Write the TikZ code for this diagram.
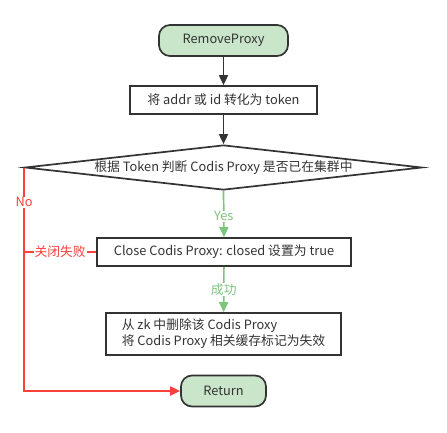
\documentclass[tikz,border=0pt]{standalone}
\usepackage{fontspec}
\setmainfont{Noto Sans CJK SC}
\usetikzlibrary{arrows.meta,shapes.geometric}
\definecolor{ink}{HTML}{333333}
\definecolor{termfill}{HTML}{C9E6CA}
\definecolor{okgreen}{HTML}{7CC67C}
\definecolor{failred}{HTML}{F8413A}
\begin{document}
\begin{tikzpicture}[x=1pt,y=-1pt,
    font=\fontsize{12.8}{16}\selectfont,text=ink,
    term/.style={draw=ink,line width=1.7pt,fill=termfill,rounded corners=11pt,inner sep=0pt},
    proc/.style={draw=ink,line width=1.7pt,fill=white,inner sep=0pt},
    flow/.style={ink,line width=1.7pt,-{Triangle[length=10pt,width=9pt]}},
    good/.style={okgreen,line width=1.7pt,-{Triangle[length=10pt,width=9pt]}},
    bad/.style={failred,line width=1.9pt},
    tag/.style={fill=white,inner sep=1pt,font=\fontsize{12.8}{15}\selectfont}]
    \useasboundingbox (0,0) rectangle (447,432);
    %% Blocks
    \node[term,minimum width=129pt,minimum height=31pt] (start) at (223.5,40.5) {RemoveProxy};
    \node[proc,minimum width=187pt,minimum height=28pt] (conv) at (223.5,100) {将 addr 或 id 转化为 token};
    \node[draw=ink,line width=1.7pt,diamond,aspect=8.8,inner sep=0pt,minimum width=397pt,minimum height=45pt] (check) at (223.5,167.5) {根据 Token 判断 Codis Proxy 是否已在集群中};
    \node[proc,minimum width=254pt,minimum height=28pt] (close) at (224,252) {Close Codis Proxy: closed 设置为 true};
    \node[proc,minimum width=235pt,minimum height=42pt,align=left] (clean) at (223.5,334) {从 zk 中删除该 Codis Proxy\\将 Codis Proxy 相关缓存标记为失效};
    \node[term,minimum width=85pt,minimum height=31pt] (ret) at (223.5,391) {Return};
    %% Links
    \draw[flow] (start) -- (conv);
    \draw[flow] (conv) -- (check);
    \draw[good] (check.south) -- (close.north) node[tag,text=okgreen,pos=0.55] {Yes};
    \draw[good] (close) -- (clean) node[tag,text=okgreen,pos=0.5] {成功};
    \draw[bad] (close.west) -- (check.west |- close.west) node[tag,text=failred,pos=0.5] {关闭失败};
    \draw[bad,-{Triangle[length=10pt,width=9pt]}] (check.west) |- (ret.west) node[tag,text=failred,pos=0.078] {No};
\end{tikzpicture}
\end{document}
